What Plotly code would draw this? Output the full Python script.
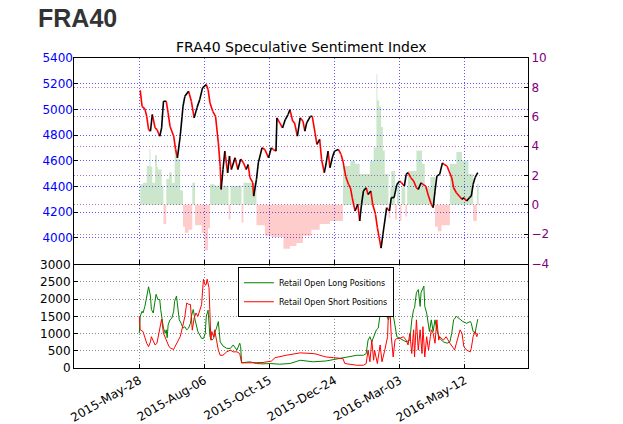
import plotly.graph_objects as go

# ---------------- data ----------------
price_dates = [
    "2015-05-29", "2015-05-31", "2015-06-03", "2015-06-05", "2015-06-07", "2015-06-09", "2015-06-11",
    "2015-06-14", "2015-06-16", "2015-06-19", "2015-06-21", "2015-06-23", "2015-06-26", "2015-06-28",
    "2015-06-30", "2015-07-04", "2015-07-06", "2015-07-08", "2015-07-11", "2015-07-13", "2015-07-14",
    "2015-07-16", "2015-07-20", "2015-07-23", "2015-07-26", "2015-07-29", "2015-08-01", "2015-08-04",
    "2015-08-08", "2015-08-10", "2015-08-12", "2015-08-15", "2015-08-18", "2015-08-21", "2015-08-23",
    "2015-08-24", "2015-08-26", "2015-08-28", "2015-08-31", "2015-09-02", "2015-09-04", "2015-09-08",
    "2015-09-11", "2015-09-14", "2015-09-17", "2015-09-20", "2015-09-22", "2015-09-24", "2015-09-27",
    "2015-09-28", "2015-10-01", "2015-10-03", "2015-10-07", "2015-10-10", "2015-10-14", "2015-10-17",
    "2015-10-19", "2015-10-22", "2015-10-23", "2015-10-26", "2015-10-29", "2015-11-01", "2015-11-04",
    "2015-11-06", "2015-11-09", "2015-11-11", "2015-11-14", "2015-11-17", "2015-11-20", "2015-11-22",
    "2015-11-24", "2015-11-28", "2015-11-30", "2015-12-03", "2015-12-05", "2015-12-08", "2015-12-10",
    "2015-12-13", "2015-12-15", "2015-12-17", "2015-12-19", "2015-12-22", "2015-12-24", "2015-12-28",
    "2015-12-31", "2016-01-02", "2016-01-05", "2016-01-08", "2016-01-10", "2016-01-12", "2016-01-15",
    "2016-01-18", "2016-01-20", "2016-01-22", "2016-01-24", "2016-01-27", "2016-01-29", "2016-02-01",
    "2016-02-03", "2016-02-06", "2016-02-08", "2016-02-10", "2016-02-12", "2016-02-14", "2016-02-16",
    "2016-02-18", "2016-02-21", "2016-02-23", "2016-02-26", "2016-02-29", "2016-03-03", "2016-03-05",
    "2016-03-08", "2016-03-10", "2016-03-12", "2016-03-15", "2016-03-18", "2016-03-21", "2016-03-23",
    "2016-03-26", "2016-03-28", "2016-03-31", "2016-04-03", "2016-04-06", "2016-04-08", "2016-04-10",
    "2016-04-12", "2016-04-15", "2016-04-18", "2016-04-20", "2016-04-23", "2016-04-25", "2016-04-28",
    "2016-04-30", "2016-05-03", "2016-05-06", "2016-05-09", "2016-05-11", "2016-05-14", "2016-05-17",
    "2016-05-19", "2016-05-21", "2016-05-23", "2016-05-26",
]
price_vals = [
    5148, 5024, 5004, 4946, 4843, 4830, 4960,
    4856, 4843, 4791, 4856, 5063, 5063, 4973,
    4869, 4791, 4688, 4623, 4791, 4946, 5024,
    5102, 5141, 5063, 4934, 5012, 5076, 5167,
    5193, 5154, 5050, 4985, 4946, 4740, 4558,
    4377, 4532, 4675, 4506, 4636, 4532, 4623,
    4532, 4613, 4585, 4532, 4571, 4468, 4429,
    4325, 4455, 4584, 4701, 4688, 4623, 4701,
    4688, 4675, 4934, 4895, 4856, 4921, 4960,
    4998, 4908, 4895, 4791, 4934, 4908, 4830,
    4895, 4946, 4946, 4817, 4727, 4766, 4610,
    4507, 4584, 4675, 4546, 4636, 4675, 4688,
    4649, 4597, 4480, 4416, 4390, 4313, 4209,
    4261, 4131, 4261, 4364, 4390, 4338, 4364,
    4261, 4183, 4080, 4002, 3920, 4028, 4131,
    4235, 4209, 4313, 4313, 4416, 4442, 4429,
    4403, 4494, 4507, 4468, 4442, 4390, 4377,
    4429, 4416, 4403, 4325, 4261, 4235, 4364,
    4481, 4494, 4584, 4571, 4558, 4520, 4468,
    4390, 4351, 4325, 4300, 4313, 4286, 4313,
    4325, 4416, 4468, 4507,
]

ssi_dates = [
    "2015-05-29", "2015-06-01", "2015-06-05", "2015-06-08", "2015-06-09", "2015-06-11", "2015-06-14",
    "2015-06-16", "2015-06-17", "2015-06-21", "2015-06-23", "2015-06-26", "2015-06-29", "2015-07-02",
    "2015-07-05", "2015-07-08", "2015-07-11", "2015-07-14", "2015-07-16", "2015-07-20", "2015-07-24",
    "2015-07-27", "2015-08-03", "2015-08-06", "2015-08-10", "2015-08-12", "2015-08-17", "2015-08-22",
    "2015-08-25", "2015-09-01", "2015-09-03", "2015-09-15", "2015-09-17", "2015-10-01", "2015-10-10",
    "2015-10-17", "2015-10-30", "2015-11-06", "2015-11-13", "2015-11-20", "2015-11-29", "2015-12-08",
    "2015-12-19", "2016-01-02", "2016-01-10", "2016-01-15", "2016-01-20", "2016-01-31", "2016-02-04",
    "2016-02-07", "2016-02-08", "2016-02-10", "2016-02-12", "2016-02-14", "2016-02-16", "2016-02-20",
    "2016-02-22", "2016-02-23", "2016-02-27", "2016-02-29", "2016-03-03", "2016-03-05", "2016-03-09",
    "2016-03-11", "2016-03-12", "2016-03-21", "2016-03-27", "2016-03-30", "2016-04-05", "2016-04-10",
    "2016-04-13", "2016-04-17", "2016-04-26", "2016-05-03", "2016-05-09", "2016-05-16", "2016-05-21",
    "2016-05-25", "2016-05-27",
]
ssi_vals = [
    1.4, 1.5, 2.65, 3.8, 2.6, 1.5, 3.4,
    2.6, 2.4, 1.3, -1.3, 1.75, 2.2, 1.5,
    3.8, 3.1, 1.0, -1.5, -1.9, -1.7, 1.5,
    -1.4, -1.9, -3.1, -1.6, 1.4, 1.3, 1.5,
    1.3, -1.0, 1.3, -1.2, 1.5, -1.4, -2.1,
    -2.2, -3.0, -2.8, -2.6, -2.1, -1.7, -1.3,
    -1.1, 2.65, 3.0, 2.8, 2.1, 3.0, 3.9,
    8.9, 7.1, 6.7, 5.3, 3.7, 2.1, -0.9,
    1.2, 2.3, -1.0, 1.5, -1.1, 1.2, -0.8,
    1.3, 2.3, 3.7, 2.8, 1.2, 1.9, -1.5,
    -1.8, -1.4, 2.8, 3.6, 3.0, 2.1, -1.1,
    1.4, 1.4,
]

long_dates = [
    "2015-05-28", "2015-05-29", "2015-05-31", "2015-06-01", "2015-06-03", "2015-06-05", "2015-06-07",
    "2015-06-09", "2015-06-10", "2015-06-12", "2015-06-14", "2015-06-15", "2015-06-17", "2015-06-19",
    "2015-06-20", "2015-06-22", "2015-06-23", "2015-06-25", "2015-06-26", "2015-06-27", "2015-06-28",
    "2015-06-30", "2015-07-02", "2015-07-04", "2015-07-05", "2015-07-07", "2015-07-08", "2015-07-10",
    "2015-07-12", "2015-07-14", "2015-07-16", "2015-07-18", "2015-07-20", "2015-07-22", "2015-07-23",
    "2015-07-25", "2015-07-27", "2015-07-29", "2015-07-30", "2015-08-01", "2015-08-03", "2015-08-05",
    "2015-08-07", "2015-08-08", "2015-08-10", "2015-08-12", "2015-08-14", "2015-08-16", "2015-08-17",
    "2015-08-19", "2015-08-21", "2015-08-22", "2015-08-23", "2015-08-26", "2015-08-30", "2015-09-03",
    "2015-09-06", "2015-09-10", "2015-09-13", "2015-09-14", "2015-09-15", "2015-09-24", "2015-10-01",
    "2015-10-08", "2015-10-16", "2015-10-26", "2015-11-06", "2015-11-17", "2015-12-01", "2015-12-15",
    "2015-12-23", "2016-01-02", "2016-01-10", "2016-01-17", "2016-01-24", "2016-01-27", "2016-01-29",
    "2016-01-31", "2016-02-02", "2016-02-04", "2016-02-07", "2016-02-09", "2016-02-11", "2016-02-13",
    "2016-02-14", "2016-02-16", "2016-02-18", "2016-02-20", "2016-02-22", "2016-02-25", "2016-02-29",
    "2016-03-03", "2016-03-07", "2016-03-10", "2016-03-14", "2016-03-16", "2016-03-18", "2016-03-19",
    "2016-03-21", "2016-03-23", "2016-03-25", "2016-03-26", "2016-03-29", "2016-03-30", "2016-04-01",
    "2016-04-03", "2016-04-04", "2016-04-06", "2016-04-08", "2016-04-10", "2016-04-12", "2016-04-15",
    "2016-04-19", "2016-04-23", "2016-04-26", "2016-04-28", "2016-04-30", "2016-05-03", "2016-05-07",
    "2016-05-10", "2016-05-14", "2016-05-18", "2016-05-19", "2016-05-21", "2016-05-23", "2016-05-25",
    "2016-05-26",
]
long_vals = [
    1010, 1500, 1650, 1600, 1790, 2090, 2360,
    2090, 1700, 1600, 1890, 2140, 1990, 1990,
    1700, 1300, 1160, 1010, 1110, 880, 1250,
    1400, 1450, 1650, 1940, 2090, 1890, 1400,
    1300, 1160, 1200, 1110, 1160, 1300, 1500,
    1700, 1400, 1160, 1060, 960, 860, 860,
    1010, 1500, 1680, 910, 810, 860, 1010,
    1160, 1350, 1060, 760, 640, 570, 570,
    670, 520, 720, 620, 150, 180, 130,
    120, 130, 110, 130, 225, 180, 205,
    245, 300, 340, 370, 370, 420, 810,
    910, 760, 910, 1110, 1160, 1600, 1990,
    2040, 1890, 1500, 1400, 1600, 1550, 910,
    860, 810, 760, 810, 1400, 1700, 1750,
    2190, 2280, 1790, 2190, 2380, 1790, 1600,
    1200, 1060, 1400, 1060, 1400, 1110, 860,
    760, 720, 760, 1010, 1400, 1500, 1400,
    1350, 1300, 1350, 1300, 1060, 1010, 1300,
    1420,
]

short_dates = [
    "2015-05-28", "2015-05-29", "2015-06-01", "2015-06-03", "2015-06-05", "2015-06-07", "2015-06-09",
    "2015-06-10", "2015-06-12", "2015-06-14", "2015-06-16", "2015-06-17", "2015-06-19", "2015-06-21",
    "2015-06-23", "2015-06-25", "2015-06-27", "2015-06-29", "2015-07-01", "2015-07-04", "2015-07-05",
    "2015-07-07", "2015-07-11", "2015-07-14", "2015-07-16", "2015-07-18", "2015-07-20", "2015-07-22",
    "2015-07-23", "2015-07-24", "2015-07-26", "2015-07-28", "2015-07-30", "2015-08-01", "2015-08-03",
    "2015-08-05", "2015-08-07", "2015-08-08", "2015-08-09", "2015-08-11", "2015-08-12", "2015-08-13",
    "2015-08-14", "2015-08-16", "2015-08-17", "2015-08-19", "2015-08-21", "2015-08-23", "2015-08-26",
    "2015-08-30", "2015-09-03", "2015-09-06", "2015-09-10", "2015-09-13", "2015-09-15", "2015-09-24",
    "2015-10-08", "2015-10-17", "2015-10-21", "2015-11-02", "2015-11-13", "2015-11-17", "2015-12-01",
    "2015-12-05", "2015-12-12", "2015-12-15", "2015-12-23", "2015-12-26", "2016-01-02", "2016-01-04",
    "2016-01-10", "2016-01-17", "2016-01-24", "2016-01-27", "2016-01-29", "2016-01-31", "2016-02-02",
    "2016-02-04", "2016-02-05", "2016-02-08", "2016-02-11", "2016-02-13", "2016-02-16", "2016-02-19",
    "2016-02-20", "2016-02-21", "2016-02-23", "2016-02-25", "2016-02-27", "2016-02-29", "2016-03-03",
    "2016-03-07", "2016-03-10", "2016-03-12", "2016-03-14", "2016-03-16", "2016-03-18", "2016-03-19",
    "2016-03-21", "2016-03-23", "2016-03-25", "2016-03-27", "2016-03-28", "2016-03-30", "2016-04-01",
    "2016-04-03", "2016-04-05", "2016-04-06", "2016-04-08", "2016-04-10", "2016-04-12", "2016-04-14",
    "2016-04-15", "2016-04-19", "2016-04-22", "2016-04-24", "2016-04-26", "2016-04-30", "2016-05-01",
    "2016-05-03", "2016-05-07", "2016-05-09", "2016-05-11", "2016-05-14", "2016-05-18", "2016-05-19",
    "2016-05-21", "2016-05-23", "2016-05-25", "2016-05-26",
]
short_vals = [
    1500, 1110, 1060, 860, 720, 620, 760,
    910, 810, 670, 720, 860, 1200, 1420,
    1010, 860, 760, 620, 570, 540, 600,
    720, 910, 1250, 1500, 1890, 1850, 1850,
    1500, 1100, 1450, 1600, 1500, 1650, 1840,
    2580, 2400, 2430, 2580, 2330, 1700, 810,
    1060, 900, 1110, 800, 520, 370, 370,
    470, 520, 470, 470, 420, 150, 150,
    160, 200, 300, 370, 420, 440, 420,
    400, 340, 320, 300, 290, 275, 130,
    100, 80, 80, 130, 520, 180, 810,
    225, 520, 130, 670, 180, 520, 910,
    1700, 1990, 910, 320, 810, 860, 860,
    910, 810, 670, 1010, 420, 1110, 320,
    1400, 520, 1110, 420, 1200, 320, 910,
    520, 910, 1110, 1010, 720, 1400, 810,
    910, 810, 910, 810, 720, 570, 520,
    720, 1110, 1010, 620, 520, 470, 570,
    910, 1060, 910, 1010,
]

tick_dates = ["2015-05-28", "2015-08-06", "2015-10-15", "2015-12-24", "2016-03-03", "2016-05-12"]
tick_labels = ["2015-May-28", "2015-Aug-06", "2015-Oct-15", "2015-Dec-24", "2016-Mar-03", "2016-May-12"]
price_ticks = [4000, 4200, 4400, 4600, 4800, 5000, 5200, 5400]

# ---------------- build figure ----------------
FONT = "DejaVu Sans"
fig = go.Figure()

# sentiment index as filled steps (main top axis, right side)
ssi_pos = [max(v, 0) for v in ssi_vals]
ssi_neg = [min(v, 0) for v in ssi_vals]
fig.add_trace(go.Scatter(x=ssi_dates, y=ssi_pos, xaxis="x", yaxis="y", mode="lines",
                         line=dict(shape="hv", width=0, color="rgba(0,128,0,0)"),
                         fill="tozeroy", fillcolor="rgba(0,128,0,0.2)", showlegend=False,
                         hoverinfo="skip"))
fig.add_trace(go.Scatter(x=ssi_dates, y=ssi_neg, xaxis="x", yaxis="y", mode="lines",
                         line=dict(shape="hv", width=0, color="rgba(255,0,0,0)"),
                         fill="tozeroy", fillcolor="rgba(255,0,0,0.2)", showlegend=False,
                         hoverinfo="skip"))

# price, coloured by direction (overlaid axis, left side)
red_x, red_y, blk_x, blk_y = [], [], [], []
for i in range(len(price_vals) - 1):
    if price_vals[i + 1] < price_vals[i]:
        tx, ty = red_x, red_y
    else:
        tx, ty = blk_x, blk_y
    tx += [price_dates[i], price_dates[i + 1], None]
    ty += [price_vals[i], price_vals[i + 1], None]
fig.add_trace(go.Scatter(x=red_x, y=red_y, xaxis="x", yaxis="y2", mode="lines",
                         line=dict(color="#ff0000", width=1.6), showlegend=False))
fig.add_trace(go.Scatter(x=blk_x, y=blk_y, xaxis="x", yaxis="y2", mode="lines",
                         line=dict(color="#000000", width=1.6), showlegend=False))

# positions
fig.add_trace(go.Scatter(x=long_dates, y=long_vals, xaxis="x2", yaxis="y3", mode="lines",
                         line=dict(color="#008000", width=1), name="Retail Open Long Positions"))
fig.add_trace(go.Scatter(x=short_dates, y=short_vals, xaxis="x2", yaxis="y3", mode="lines",
                         line=dict(color="#ff0000", width=1), name="Retail Open Short Positions"))

xrange = ["2015-03-18 19:00", "2016-07-19"]
blue_grid = "rgba(60,60,255,0.85)"
purple_grid = "rgba(160,70,160,0.75)"
gray_grid = "rgba(120,120,120,0.85)"
DASH = "1px,2px"

fig.update_layout(
    width=623, height=424,
    margin=dict(l=74, r=95, t=58, b=56, autoexpand=False),
    paper_bgcolor="white", plot_bgcolor="white",
    font=dict(family=FONT, size=12, color="black"),
    title=dict(text="<b>FRA40</b>", x=0.061, xanchor="left", y=0.958, yanchor="middle",
               font=dict(family="Liberation Sans", size=25, color="#333333")),
    xaxis=dict(domain=[0, 1], anchor="y", type="date", range=xrange, automargin=False,
               tickvals=tick_dates, showticklabels=False,
               showgrid=True, gridcolor=blue_grid, griddash=DASH, gridwidth=1,
               showline=True, mirror=True, linecolor="black", linewidth=1,
               ticks="inside", ticklen=4, tickcolor="black"),
    yaxis=dict(domain=[0.337, 1], anchor="x", side="right", range=[-4, 10], dtick=2,
               automargin=False, tickfont=dict(color="#800080", size=12),
               showgrid=True, gridcolor=purple_grid, griddash=DASH, gridwidth=1,
               showline=True, mirror=True, linecolor="black", linewidth=1, zeroline=False,
               ticks="inside", ticklen=4, tickcolor="black"),
    yaxis2=dict(overlaying="y", anchor="x", side="left", range=[3800, 5400], tickvals=price_ticks,
                automargin=False, tickfont=dict(color="#0000ff", size=12),
                showgrid=True, gridcolor=blue_grid, griddash=DASH, gridwidth=1,
                zeroline=False, showline=False, ticks="inside", ticklen=4, tickcolor="black"),
    xaxis2=dict(domain=[0, 1], anchor="y3", type="date", range=xrange, automargin=False,
                tickvals=tick_dates, ticktext=tick_labels, tickangle=-30,
                tickfont=dict(size=12),
                showgrid=True, gridcolor=gray_grid, griddash=DASH, gridwidth=1,
                showline=True, mirror=True, linecolor="black", linewidth=1,
                ticks="inside", ticklen=4, tickcolor="black"),
    yaxis3=dict(domain=[0, 0.333], anchor="x2", range=[0, 3000], dtick=500, automargin=False,
                tickfont=dict(size=12),
                showgrid=True, gridcolor=gray_grid, griddash=DASH, gridwidth=1,
                showline=True, mirror=True, linecolor="black", linewidth=1, zeroline=False,
                ticks="inside", ticklen=4, tickcolor="black"),
    legend=dict(x=0.361, y=0.325, xanchor="left", yanchor="top",
                bgcolor="white", bordercolor="black", borderwidth=1,
                font=dict(size=8, family=FONT), tracegroupgap=0, itemwidth=30),
    annotations=[dict(text="FRA40 Speculative Sentiment Index", xref="paper", yref="paper",
                      x=0.5, y=1.0, xanchor="center", yanchor="bottom", showarrow=False,
                      yshift=1, font=dict(family=FONT, size=14, color="black"))],
)

fig.write_html("out.html")
